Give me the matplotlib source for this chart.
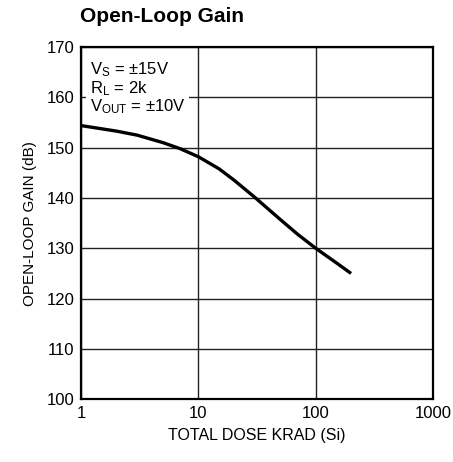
import numpy as np
import matplotlib.pyplot as plt

plt.rcParams['font.family'] = ['Liberation Sans', 'DejaVu Sans']

# данные кривой
dose = [1, 2, 3, 5, 7, 10, 15, 20, 30, 50, 70, 100, 150, 200]
gain = [154.4, 153.3, 152.5, 151.0, 149.8, 148.2, 145.8, 143.6, 140.2, 135.7, 132.8, 130.0, 127.1, 125.0]

xticks = [1, 10, 100, 1000]
xtick_labels = ['1', '10', '100', '1000']
yticks = [100, 110, 120, 130, 140, 150, 160, 170]

fig = plt.figure(figsize=(4.53, 4.62), dpi=100)
ax = fig.add_axes([0.179, 0.136, 0.777, 0.762])

ax.plot(dose, gain, color='black', lw=2.4, zorder=3, solid_capstyle='butt', solid_joinstyle='round')

ax.set_xscale('log')
ax.set_xlim(1, 1000)
ax.set_ylim(100, 170)
ax.set_xticks(xticks)
ax.set_xticklabels(xtick_labels)
ax.minorticks_off()
ax.set_yticks(yticks)
ax.grid(True, color='#222222', lw=1.0)
ax.tick_params(labelsize=12, length=0, pad=5)
for s in ax.spines.values():
    s.set_linewidth(1.6)

ax.set_xlabel('TOTAL DOSE KRAD (Si)', fontsize=11.5, labelpad=5)
ax.set_ylabel('OPEN-LOOP GAIN (dB)', fontsize=11, labelpad=7)

ax.text(1.18, 167.4,
        '$\\mathregular{V_S}$ = ±15V\n$\\mathregular{R_L}$ = 2k\n$\\mathregular{V_{OUT}}$ = ±10V',
        fontsize=12, va='top', ha='left', linespacing=1.0,
        bbox=dict(facecolor='white', edgecolor='none', pad=2.5), zorder=4)

fig.text(0.177, 0.943, 'Open-Loop Gain', fontsize=15, fontweight='bold', ha='left', va='bottom')

plt.savefig('out.png', dpi=100)
